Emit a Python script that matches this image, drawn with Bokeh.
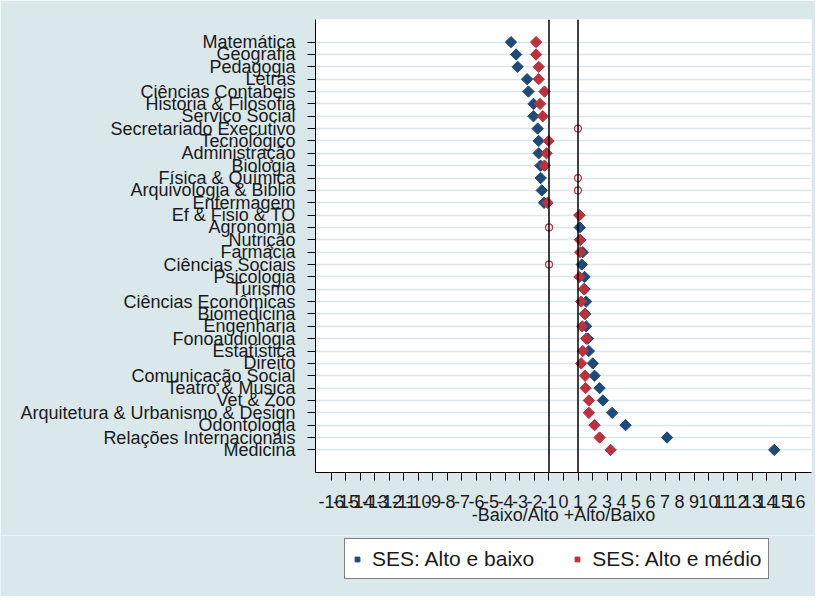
import numpy as np
from bokeh.plotting import figure
from bokeh.layouts import column
from bokeh.models import (ColumnDataSource, Range1d, FactorRange, Span, Legend,
                          LegendItem, FixedTicker)
from bokeh.embed import file_html
from bokeh.resources import INLINE

categories = [
    "Matemática", "Geografia", "Pedagogia", "Letras", "Ciências Contabeis",
    "Historia & Filosofia", "Serviço Social", "Secretariado Executivo",
    "Tecnológico", "Administração", "Biologia", "Física & Química",
    "Arquivologia & Biblio", "Enfermagem", "Ef & Fisio & TO", "Agronomia",
    "Nutrição", "Farmácia", "Ciências Sociais", "Psicologia", "Turismo",
    "Ciências Econômicas", "Biomedicina", "Engenharia", "Fonoaudiologia",
    "Estatística", "Direito", "Comunicação Social", "Teatro & Musica",
    "Vet & Zoo", "Arquitetura & Urbanismo & Design", "Odontologia",
    "Relações Internacionais", "Medicina",
]

# SES: Alto e baixo
blue_values = [
    -3.62, -3.27, -3.16, -2.51, -2.42, -2.07, -2.07, -1.78, -1.71, -1.71,
    -1.59, -1.57, -1.50, -1.34, 1.10, 1.12, 1.15, 1.33, 1.26, 1.45, 1.45,
    1.56, 1.50, 1.56, 1.68, 1.75, 2.02, 2.14, 2.49, 2.72, 3.36, 4.28, 7.14,
    14.53,
]

# SES: Alto e médio
red_values = [
    -1.89, -1.89, -1.71, -1.71, -1.31, -1.62, -1.43, 1.0, -1.03, -1.17,
    -1.31, 1.0, 1.0, -1.10, 1.10, -1.0, 1.15, 1.15, -1.0, 1.10, 1.40,
    1.22, 1.45, 1.29, 1.56, 1.33, 1.22, 1.49, 1.52, 1.75, 1.75, 2.14, 2.49,
    3.25,
]

# red values drawn as small hollow circles
red_hollow = [
    False, False, False, False, False, False, False, True, False, False,
    False, True, True, False, False, True, False, False, True, False, False,
    False, False, False, False, False, False, False, False, False, False,
    False, False, False,
]

x_ticks = list(range(-16, 17))
x_tick_labels = [str(t) for t in x_ticks]
ref_lines = [-1, 1]
x_title = "-Baixo/Alto +Alto/Baixo"
legend_labels = ["SES: Alto e baixo", "SES: Alto e médio"]

BLUE = "#1F4A78"
RED = "#B8323F"
BG = "#DAE8EC"
FONT = "Liberation Sans"
TXT = "#1a1a1a"

p = figure(
    width=815, height=535, output_backend="svg", toolbar_location=None,
    x_range=Range1d(-17.1, 17.1),
    y_range=FactorRange(factors=categories[::-1], range_padding=1.33,
                        range_padding_units="absolute"),
    min_border_left=315, min_border_right=4, min_border_top=19,
    min_border_bottom=63,
    background_fill_color="white", border_fill_color=BG,
    outline_line_color=None,
)

# grid
p.xgrid.grid_line_color = None
p.ygrid.grid_line_color = "#DCE7EC"
p.ygrid.grid_line_width = 1.5

# x axis
p.xaxis.ticker = FixedTicker(ticks=x_ticks)
p.xaxis.major_label_overrides = dict(zip(x_ticks, x_tick_labels))
p.xaxis.minor_tick_line_color = None
p.xaxis.major_tick_out = 8
p.xaxis.major_tick_in = 0
p.xaxis.major_label_standoff = 14
p.xaxis.major_label_text_font = FONT
p.xaxis.major_label_text_font_size = "18px"
p.xaxis.major_label_text_color = TXT
p.xaxis.axis_label = x_title
p.xaxis.axis_label_text_font = FONT
p.xaxis.axis_label_text_font_size = "18px"
p.xaxis.axis_label_text_font_style = "normal"
p.xaxis.axis_label_text_color = TXT
p.xaxis.axis_label_standoff = -6
p.xaxis.axis_line_color = "black"
p.xaxis.major_tick_line_color = "black"

# y axis
p.yaxis.major_tick_out = 8
p.yaxis.major_tick_in = 0
p.yaxis.major_label_standoff = 12
p.yaxis.major_label_text_font = FONT
p.yaxis.major_label_text_font_size = "18px"
p.yaxis.major_label_text_color = TXT
p.yaxis.axis_line_color = "black"
p.yaxis.major_tick_line_color = "black"

for v in ref_lines:
    p.add_layout(Span(location=v, dimension="height", line_color="black",
                      line_width=1.5))

blue_src = ColumnDataSource(dict(x=blue_values, cat=categories))
red_solid = ColumnDataSource(dict(
    x=[v for v, h in zip(red_values, red_hollow) if not h],
    cat=[c for c, h in zip(categories, red_hollow) if not h]))
red_open = ColumnDataSource(dict(
    x=[v for v, h in zip(red_values, red_hollow) if h],
    cat=[c for c, h in zip(categories, red_hollow) if h]))

p.scatter("x", "cat", source=blue_src, marker="square", angle=np.pi / 4,
          size=8, fill_color=BLUE, line_color=BLUE)
p.scatter("x", "cat", source=red_solid, marker="square", angle=np.pi / 4,
          size=8, fill_color=RED, line_color=RED)
p.scatter("x", "cat", source=red_open, marker="circle", size=7,
          fill_color=None, line_color=RED, line_width=1.2)

# legend strip below the plot (its ranges hide the series; only the key shows)
lg = figure(
    width=815, height=61, output_backend="svg", toolbar_location=None,
    x_range=Range1d(100, 101), y_range=Range1d(100, 101),
    min_border_left=0, min_border_right=0, min_border_top=0,
    min_border_bottom=0, frame_align=False,
    background_fill_color=BG, border_fill_color=BG, outline_line_color=None,
)
lg.axis.visible = False
lg.grid.visible = False
lb = lg.scatter(blue_values, blue_values, marker="square", angle=np.pi / 4,
                size=8, fill_color=BLUE, line_color=BLUE)
lr = lg.scatter(red_values, red_values, marker="square", angle=np.pi / 4,
                size=8, fill_color=RED, line_color=RED)

legend = Legend(
    items=[LegendItem(label=legend_labels[0], renderers=[lb]),
           LegendItem(label=legend_labels[1], renderers=[lr])],
    location=(344, 17), orientation="horizontal",
    glyph_width=12, glyph_height=12, label_standoff=9, spacing=37,
    padding=6, margin=0, label_height=27,
    label_text_font=FONT, label_text_font_size="21px", label_text_color=TXT,
    border_line_color="black", border_line_width=1.2,
    background_fill_color="white", background_fill_alpha=1.0,
)
lg.add_layout(legend)

layout = column(p, lg, spacing=0)
open("out.html", "w").write(file_html(layout, INLINE))
